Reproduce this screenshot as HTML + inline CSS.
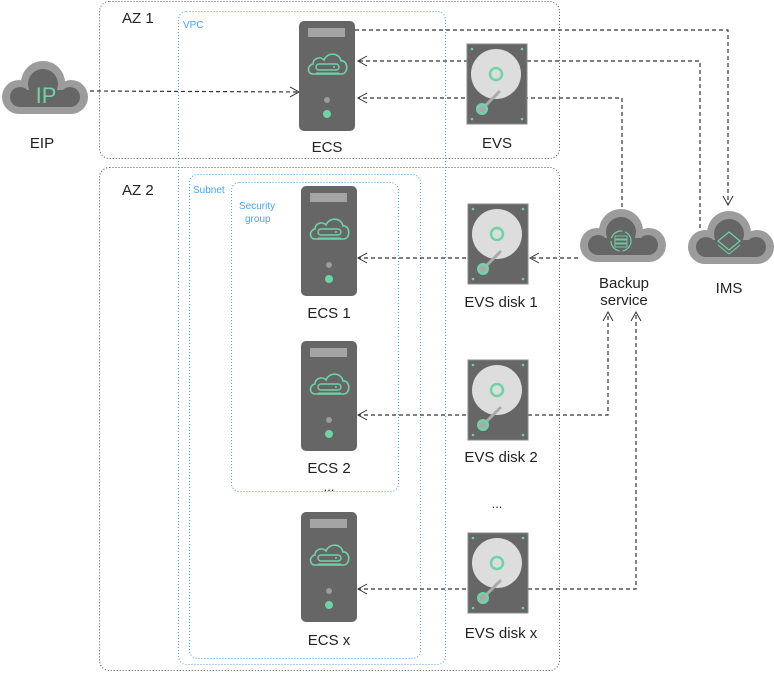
<!DOCTYPE html>
<html><head><meta charset="utf-8"><style>
html,body{margin:0;padding:0;background:#fff}
svg{display:block}
text{font-family:"Liberation Sans",sans-serif}
</style></head><body>
<svg width="774" height="673" viewBox="0 0 774 673" xmlns="http://www.w3.org/2000/svg">
<defs>
<g id="srv">
<rect x="0" y="0" width="56" height="110" rx="5" fill="#666"/>
<rect x="9" y="7" width="37" height="9" fill="#a4a4a4"/>
<path d="M14 53 C8 53 8 44 14 43 C14 37 22 35 25 39 C28 31 40 31 42 40 C49 39 50 52 43 53 Z" fill="none" stroke="#6fd3a8" stroke-width="1.6"/>
<rect x="17" y="43" width="23" height="6" rx="3" fill="none" stroke="#6fd3a8" stroke-width="1.4"/>
<circle cx="35" cy="46" r="1" fill="#6fd3a8"/>
<line x1="17" y1="52" x2="40" y2="52" stroke="#6fd3a8" stroke-width="1"/>
<circle cx="28" cy="79" r="3" fill="#9c9c9c"/>
<circle cx="28" cy="93" r="4" fill="#6fd3a8"/>
</g>
<g id="disk">
<rect x="0" y="0" width="60" height="80" fill="#666" stroke="#888" stroke-width="1"/>
<circle cx="29" cy="30" r="25" fill="#ddd"/>
<circle cx="29" cy="30" r="6" fill="none" stroke="#6fd3a8" stroke-width="2.5"/>
<line x1="15" y1="65" x2="32" y2="48" stroke="#aaa" stroke-width="3" stroke-linecap="round"/>
<circle cx="15" cy="65" r="6" fill="#6fd3a8"/>
<circle cx="15" cy="65" r="3.5" fill="#aaa"/>
<circle cx="5" cy="5" r="1.3" fill="#6fd3a8"/><circle cx="55" cy="5" r="1.3" fill="#6fd3a8"/>
<circle cx="5" cy="75" r="1.3" fill="#6fd3a8"/><circle cx="55" cy="75" r="1.3" fill="#6fd3a8"/>
</g>
<g id="cloud">
<g fill="#9c9c9c">
<circle cx="43" cy="23" r="22"/><circle cx="19" cy="37" r="17"/><circle cx="71" cy="37" r="17"/>
<rect x="19" y="37" width="52" height="17"/>
</g>
<g fill="#666">
<circle cx="43" cy="24" r="15"/><circle cx="20" cy="37" r="10"/><circle cx="70" cy="37" r="10"/>
<rect x="20" y="30" width="50" height="17"/>
</g>
</g>
<marker id="ah" markerWidth="12" markerHeight="12" refX="10" refY="6" orient="auto" markerUnits="userSpaceOnUse">
<path d="M1 1 L10 6 L1 11" fill="none" stroke="#333" stroke-width="1"/>
</marker>
</defs>

<rect x="99.5" y="1.5" width="460" height="157" rx="10" fill="none" stroke="#555" stroke-width="1" stroke-dasharray="1,2"/>
<rect x="99.5" y="167.5" width="460" height="503" rx="10" fill="none" stroke="#555" stroke-width="1" stroke-dasharray="1,2"/>
<rect x="178.5" y="11.5" width="267" height="653" rx="8" fill="none" stroke="#4aa3f0" stroke-width="1" stroke-dasharray="1,2"/>
<rect x="189.5" y="174.5" width="231" height="484" rx="8" fill="none" stroke="#4aa3f0" stroke-width="1" stroke-dasharray="1,2"/>
<rect x="231.5" y="182.5" width="167" height="309" rx="8" fill="none" stroke="#4aa3f0" stroke-width="1" stroke-dasharray="1,2"/>
<text x="122" y="23" font-size="15" fill="#222">AZ 1</text>
<text x="122" y="195" font-size="15" fill="#222">AZ 2</text>
<text x="183" y="28" font-size="10" fill="#4aa3f0">VPC</text>
<text x="193" y="193" font-size="10" fill="#4aa3f0">Subnet</text>
<text x="239" y="209" font-size="10" fill="#4aa3f0">Security</text>
<text x="245" y="222" font-size="10" fill="#4aa3f0">group</text>

<g fill="none" stroke="#333" stroke-width="1.2" stroke-dasharray="4,3">
<path d="M90 91 L299 92" marker-end="url(#ah)"/>
<path d="M355 30 L728 30 L728 205" marker-end="url(#ah)"/>
<path d="M700 228 L700 61 L358 61" marker-end="url(#ah)"/>
<path d="M622 207 L622 98 L358 98" marker-end="url(#ah)"/>
<path d="M578 258 L530 258" marker-end="url(#ah)"/>
<path d="M466 258 L358 258" marker-end="url(#ah)"/>
<path d="M466 415 L358 415" marker-end="url(#ah)"/>
<path d="M528 415 L608 415 L608 312" marker-end="url(#ah)"/>
<path d="M466 589 L358 589" marker-end="url(#ah)"/>
<path d="M528 589 L636 589 L636 312" marker-end="url(#ah)"/>
</g>

<use href="#cloud" x="0" y="60"/>
<text x="46" y="103" font-size="22" fill="#6fd3a8" text-anchor="middle">IP</text>
<text x="42" y="148" font-size="15" fill="#222" text-anchor="middle">EIP</text>

<use href="#srv" x="299" y="21"/>
<text x="327" y="152" font-size="15" fill="#222" text-anchor="middle">ECS</text>
<use href="#srv" x="301" y="186"/>
<text x="329" y="318" font-size="15" fill="#222" text-anchor="middle">ECS 1</text>
<use href="#srv" x="301" y="341"/>
<text x="329" y="473" font-size="15" fill="#222" text-anchor="middle">ECS 2</text>
<text x="329" y="491" font-size="13" fill="#222" text-anchor="middle">...</text>
<use href="#srv" x="301" y="512"/>
<text x="329" y="645" font-size="15" fill="#222" text-anchor="middle">ECS x</text>

<use href="#disk" x="467" y="44"/>
<text x="497" y="148" font-size="15" fill="#222" text-anchor="middle">EVS</text>
<use href="#disk" x="468" y="204"/>
<text x="501" y="307" font-size="15" fill="#222" text-anchor="middle">EVS disk 1</text>
<use href="#disk" x="468" y="360"/>
<text x="501" y="462" font-size="15" fill="#222" text-anchor="middle">EVS disk 2</text>
<text x="497" y="508" font-size="13" fill="#222" text-anchor="middle">...</text>
<use href="#disk" x="468" y="533"/>
<text x="501" y="638" font-size="15" fill="#222" text-anchor="middle">EVS disk x</text>

<use href="#cloud" x="578" y="208"/>
<circle cx="621" cy="241" r="10" fill="none" stroke="#6fd3a8" stroke-width="1.2" stroke-dasharray="14,3"/>
<rect x="615" y="236" width="12" height="3" fill="none" stroke="#6fd3a8" stroke-width="0.9"/>
<rect x="615" y="240" width="12" height="3" fill="none" stroke="#6fd3a8" stroke-width="0.9"/>
<rect x="615" y="244" width="12" height="3" fill="none" stroke="#6fd3a8" stroke-width="0.9"/>
<text x="624" y="288" font-size="15" fill="#222" text-anchor="middle">Backup</text>
<text x="624" y="305" font-size="15" fill="#222" text-anchor="middle">service</text>

<use href="#cloud" x="686" y="210"/>
<path d="M729 232 L740 241 L729 250 L718 241 Z" fill="none" stroke="#6fd3a8" stroke-width="1.2"/>
<path d="M718 245 L729 254 L740 245" fill="none" stroke="#6fd3a8" stroke-width="1"/>
<text x="729" y="293" font-size="15" fill="#222" text-anchor="middle">IMS</text>
</svg>
</body></html>
